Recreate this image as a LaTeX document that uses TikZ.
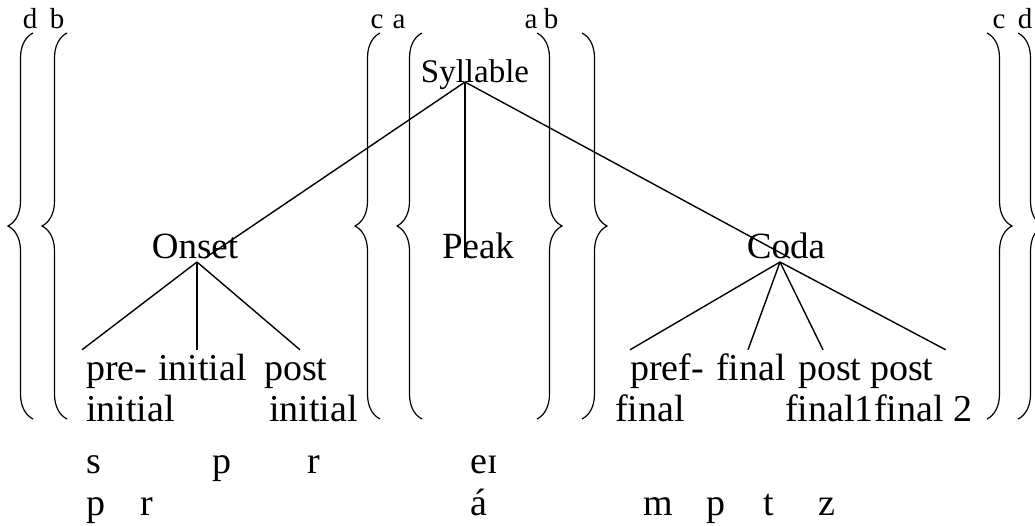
\documentclass[tikz,border=0pt]{standalone}
\usepackage{fontspec}
\setmainfont{Liberation Serif}
\usetikzlibrary{decorations.pathreplacing}

\begin{document}
\begin{tikzpicture}[
  x=1pt, y=-1pt,
  unit/.style={
    inner sep=0pt,
    anchor=base,
    font=\fontsize{37}{40}\selectfont
  },
  word/.style={
    inner sep=0pt,
    anchor=base west,
    text height=30pt,
    text depth=8pt,
    font=\fontsize{38}{40}\selectfont
  },
  tag/.style={
    inner sep=0pt,
    anchor=base,
    font=\fontsize{29}{32}\selectfont
  },
  branch/.style={line width=1.4pt},
  bracket/.style={line width=1.2pt, decorate, decoration={brace, amplitude=25pt}}
]

\useasboundingbox (0,0) rectangle (1035,525);

% Tree: syllable and its three parts.
\node[unit, font=\fontsize{33}{36}\selectfont] (syl) at (475,82) {Syllable};
\node[unit] (onset) at (195,258) {Onset};
\node[unit] (peak) at (478,258) {Peak};
\node[unit] (coda) at (786,258) {Coda};

\coordinate (apex) at ([xshift=-10pt]syl.base);
\coordinate (osplit) at ([shift={(2pt,-4pt)}]onset.base);
\coordinate (csplit) at ([shift={(-6pt,-4pt)}]coda.base);

\draw[branch] (apex) -- ([xshift=10pt]onset.base);
\draw[branch] (apex) -- (apex |- peak.base);
\draw[branch] (apex) -- ([xshift=4pt]coda.base);

% Onset slots, two lines each.
\node[word] (preA) at (86,380) {pre-};
\node[word] (preB) at (86,421) {initial};
\node[word] (init) at (158,380) {initial};
\node[word] (postA) at (264,380) {post};
\node[word] (postB) at (269,421) {initial};

\draw[branch] (osplit) -- ([xshift=-4pt]preA.north west);
\draw[branch] (osplit) -- (osplit |- init.north);
\draw[branch] (osplit) -- ([xshift=36pt]postA.north west);

% Coda slots.
\node[word] (prefA) at (630,380) {pref-};
\node[word] (prefB) at (615,421) {final};
\node[word] (fin) at (716,380) {final};
\node[word] (pfA) at (798,380) {post};
\node[word] (pfB) at (785,421) {final1};
\node[word] (ppA) at (870,380) {post};
\node[word] (ppB) at (874,421) {final 2};

\draw[branch] (csplit) -- (prefA.north west);
\draw[branch] (csplit) -- ([xshift=32pt]fin.north west);
\draw[branch] (csplit) -- ([xshift=25pt]pfA.north west);
\draw[branch] (csplit) -- ([xshift=12pt]ppA.north east);

% Sample segments below the tree.
\node[word] (s1) at (86,473) {s};
\node[word] (s2) at (212,473) {p};
\node[word] (s3) at (307,473) {r};
\node[word] (s4) at (470,473) {eɪ};
\node[word] (t1) at (86,515) {p};
\node[word] (t2) at (140,515) {r};
\node[word] (t3) at (470,515) {á};
\node[word] (t4) at (643,515) {m};
\node[word] (t5) at (706,515) {p};
\node[word] (t6) at (763,515) {t};
\node[word] (t7) at (818,515) {z};

% Brackets with their letters.
\draw[bracket] (33,419) -- (33,33);
\draw[bracket] (67,419) -- (67,33);
\draw[bracket] (380,419) -- (380,33);
\draw[bracket] (422,419) -- (422,33);
\draw[bracket] (537,33) -- (537,419);
\draw[bracket] (582,33) -- (582,419);
\draw[bracket] (987,33) -- (987,419);
\draw[bracket] (1018,33) -- (1018,419);

\node[tag] (dl) at (30,28) {d};
\node[tag] (bl) at (57,28) {b};
\node[tag] (cl) at (377,28) {c};
\node[tag] (al) at (399,28) {a};
\node[tag] (ar) at (531,28) {a};
\node[tag] (br) at (551,28) {b};
\node[tag] (cr) at (999,28) {c};
\node[tag] (dr) at (1025,28) {d};

\end{tikzpicture}
\end{document}
